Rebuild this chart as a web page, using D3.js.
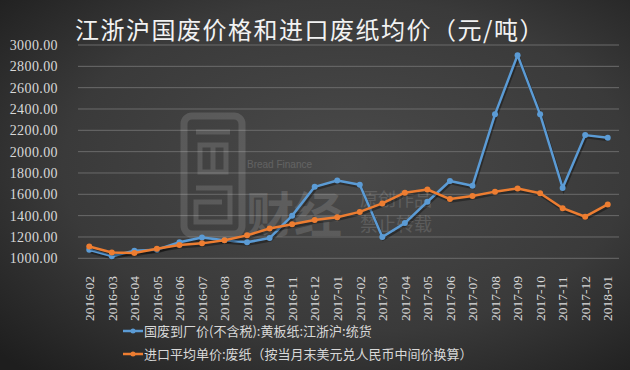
<!DOCTYPE html>
<html><head><meta charset="utf-8">
<script src="https://cdn.jsdelivr.net/npm/d3@7/dist/d3.min.js"></script>
<style>html,body{margin:0;padding:0;background:#333;}svg{display:block;}</style>
</head><body>
<script>
const months = ["2016-02","2016-03","2016-04","2016-05","2016-06","2016-07","2016-08","2016-09","2016-10","2016-11","2016-12","2017-01","2017-02","2017-03","2017-04","2017-05","2017-06","2017-07","2017-08","2017-09","2017-10","2017-11","2017-12","2018-01"];
const domesticPrice = [1080,1020,1070,1080,1150,1195,1170,1150,1190,1400,1670,1730,1690,1200,1330,1530,1725,1680,2350,2905,2350,1660,2155,2130];
const importPrice = [1110,1055,1050,1090,1125,1140,1170,1215,1280,1320,1360,1385,1435,1515,1615,1645,1555,1585,1625,1655,1610,1470,1390,1505];
const yTicks = [1000,1200,1400,1600,1800,2000,2200,2400,2600,2800,3000];
const seriesNames = ["国废到厂价(不含税):黄板纸:江浙沪:统货","进口平均单价:废纸（按当月末美元兑人民币中间价换算）"];
const title = "江浙沪国废价格和进口废纸均价（元/吨）";

const W = 630, H = 370;
const svg = d3.select("body").append("svg").attr("width", W).attr("height", H);
const defs = svg.append("defs");
const rg = defs.append("radialGradient").attr("id","bg").attr("cx","55%").attr("cy","45%").attr("r","75%");
rg.append("stop").attr("offset","0%").attr("stop-color","#4a4a4a");
rg.append("stop").attr("offset","60%").attr("stop-color","#3a3a3a");
rg.append("stop").attr("offset","100%").attr("stop-color","#1e1e1e");
svg.append("rect").attr("width",W).attr("height",H).attr("fill","url(#bg)");

const x = d3.scaleBand().domain(months).range([78, 619]).padding(0);
const y = d3.scaleLinear().domain([1000, 3000]).range([258.3, 45]);
const cx = d => x(d) + x.bandwidth()/2;
const serif = "'Liberation Serif','DejaVu Serif',serif";

// gridlines
svg.append("g").selectAll("line").data(yTicks).join("line")
  .attr("x1",78).attr("x2",619).attr("y1",d=>y(d)).attr("y2",d=>y(d))
  .attr("stroke","#6b6b6b").attr("stroke-width",1);

// y labels
const yAxis = d3.axisLeft(y).tickValues(yTicks).tickFormat(d=>d3.format(".2f")(d)).tickSize(0).tickPadding(0);
const gy = svg.append("g").attr("transform","translate(58,0)").call(yAxis);
gy.select(".domain").remove();
gy.selectAll("text").attr("fill","#d8d8d8").style("font-family",serif).style("font-size","14px").style("letter-spacing","0.4px");

// watermark
const wm = svg.append("g").attr("opacity",0.13).attr("fill","none").attr("stroke","#fff");
wm.append("rect").attr("x",184).attr("y",116).attr("width",58).attr("height",118).attr("rx",8).attr("stroke-width",7);
wm.append("path").attr("d","M196 132 H230 M200 145 H226 V172 H200 Z M213 145 V172 M196 188 H230 V222 H196 V202 H222").attr("stroke-width",5);
svg.append("text").attr("x",247).attr("y",168).text("Bread Finance").attr("fill","#fff").attr("opacity",0.15).style("font-family","Arial,sans-serif").style("font-size","10px");
svg.append("text").attr("x",246).attr("y",232).text("财经").attr("fill","#fff").attr("opacity",0.13).style("font-family","'Noto Sans CJK SC'").style("font-weight","bold").style("font-size","48px");
svg.append("text").attr("x",360).attr("y",206).text("原创作品").attr("fill","#fff").attr("opacity",0.13).style("font-family","'Noto Sans CJK SC'").style("font-size","18px");
svg.append("text").attr("x",360).attr("y",231).text("禁止转载").attr("fill","#fff").attr("opacity",0.13).style("font-family","'Noto Sans CJK SC'").style("font-size","18px");

// x labels
const xAxis = d3.axisBottom(x).tickSize(0).tickPadding(0);
const gx = svg.append("g").attr("transform","translate(0,264)").call(xAxis);
gx.select(".domain").remove();
gx.selectAll("text").attr("fill","#d8d8d8").style("font-family",serif).style("font-size","13.5px")
  .attr("transform","rotate(-90)").attr("x",-57).attr("y",0).attr("dy","0.35em")
  .attr("text-anchor","start");

// lines
const series = [
  {vals: domesticPrice, color:"#5b9bd5"},
  {vals: importPrice, color:"#ed7d31"}
];
const line = d3.line().x((d,i)=>cx(months[i])).y(d=>y(d));
series.forEach(s=>{
  svg.append("path").datum(s.vals).attr("d",line).attr("fill","none").attr("stroke","#000").attr("stroke-opacity",0.35)
    .attr("stroke-width",3).attr("transform","translate(1,2)");
  svg.append("path").datum(s.vals).attr("d",line).attr("fill","none").attr("stroke",s.color).attr("stroke-width",2.5).attr("stroke-linejoin","round");
  svg.append("g").selectAll("circle").data(s.vals).join("circle")
    .attr("cx",(d,i)=>cx(months[i])).attr("cy",d=>y(d)).attr("r",3).attr("fill",s.color);
});

// title
svg.append("text").attr("x",75).attr("y",39).text(title).attr("fill","#f2f2f2")
  .style("font-family","'Noto Sans CJK SC'").style("font-size","24px").style("letter-spacing","1.5px");

// legend
seriesNames.forEach((n,i)=>{
  const ly = 331 + i*23;
  const c = series[i].color;
  svg.append("line").attr("x1",123).attr("x2",143).attr("y1",ly).attr("y2",ly).attr("stroke",c).attr("stroke-width",2.5);
  svg.append("circle").attr("cx",133).attr("cy",ly).attr("r",2.5).attr("fill",c);
  svg.append("text").attr("x",144).attr("y",ly).attr("dy","0.36em").text(n).attr("fill","#d8d8d8")
    .style("font-family","'Noto Sans CJK SC'").style("font-size","13px");
});
</script>
</body></html>
